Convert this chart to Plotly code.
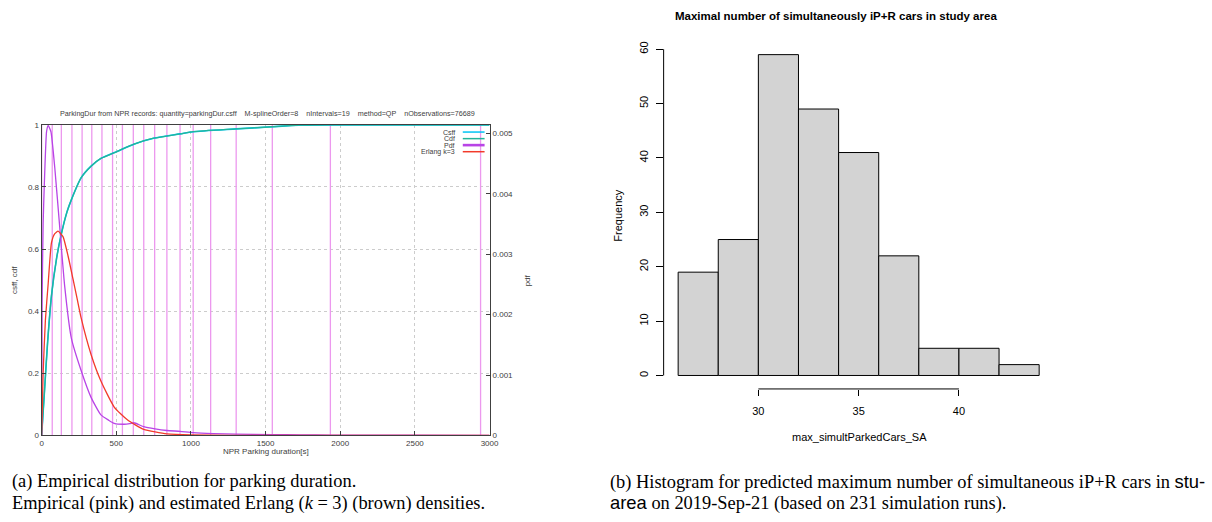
import plotly.graph_objects as go

W, H = 1212, 522

# ---------------- panel (a): parking duration distribution ----------------
dur_cdf = [0, 20, 40, 66, 100, 128, 170, 200, 265, 331, 397, 508, 618, 750, 927,
           1015, 1303, 1545, 1722, 2000, 3000]
cdf_vals = [0, 0.15, 0.30, 0.45, 0.57, 0.64, 0.72, 0.76, 0.83, 0.867, 0.892, 0.915,
            0.938, 0.957, 0.971, 0.978, 0.987, 0.994, 0.999, 1.0, 1.0]
csff_vals = [0, 0.15, 0.30, 0.45, 0.57, 0.64, 0.72, 0.76, 0.83, 0.867, 0.892, 0.915,
             0.938, 0.957, 0.971, 0.978, 0.987, 0.994, 0.999, 1.0, 1.0]

dur_pdf = [0, 3, 10, 18, 33, 44, 62, 88, 121, 154, 199, 265, 331, 397, 450, 486, 552,
           590, 618, 684, 760, 839, 927, 1015, 1150, 1300, 1545, 1735, 1935, 2500, 3000]
pdf_vals = [0, 0.00216, 0.0035, 0.00416, 0.00503, 0.00513, 0.00503, 0.00443, 0.00345,
            0.00248, 0.00161, 0.00107, 0.00063, 0.00034, 0.00025, 0.0002, 0.000185,
            0.000195, 0.00021, 0.000144, 0.000108, 0.000082, 0.000067, 0.000046,
            0.000031, 0.000021, 0.000015, 0.00001, 0.000005, 0.000003, 0.000002]

dur_erl = [0, 10, 25, 44, 66, 88, 110, 143, 177, 210, 238, 265, 331, 397, 486, 574,
           684, 839, 1000, 1500, 3000]
erl_vals = [0, 0.00103, 0.0019, 0.00252, 0.00319, 0.00334, 0.00338, 0.00329, 0.00297,
            0.00259, 0.00226, 0.00194, 0.00134, 0.0009, 0.00047, 0.00026, 0.0001,
            0.000026, 0.000008, 0, 0]

interval_bounds = [0, 71, 132, 203, 271, 336, 404, 475, 541, 614, 684, 757, 839, 927,
                   1015, 1132, 1303, 1545, 1934, 2940]

x_ticks_a = [0, 500, 1000, 1500, 2000, 2500, 3000]
y_ticks_a = [0, 0.2, 0.4, 0.6, 0.8, 1]
pdf_ticks = [0, 0.001, 0.002, 0.003, 0.004, 0.005]
pdf_tick_labels = ["0", "0.001", "0.002", "0.003", "0.004", "0.005"]

# ---------------- panel (b): histogram ----------------
bin_edges = [26, 28, 30, 32, 34, 36, 38, 40, 42, 44]
counts = [19, 25, 59, 49, 41, 22, 5, 5, 2]
x_ticks_b = [30, 35, 40]
y_ticks_b = [0, 10, 20, 30, 40, 50, 60]

def px(x):
    return x / W

def py(y):
    return 1 - y / H

COL_CSFF = "#00c4f4"
COL_CDF = "#22b59a"
COL_PDF = "#b844e6"
COL_ERL = "#f23a2a"
COL_BOUND = "#ec98ee"
AX = "#404040"
SMALL = dict(family="Liberation Sans, Arial, sans-serif", size=8, color=AX)
TINY = dict(family="Liberation Sans, Arial, sans-serif", size=7, color=AX)
RFONT = dict(family="Liberation Sans, Arial, sans-serif", size=11, color="#000")

fig = go.Figure()

# interval boundary lines
bx, by = [], []
for b in interval_bounds:
    bx += [b, b, None]
    by += [0, 1, None]
fig.add_trace(go.Scatter(x=bx, y=by, mode="lines", xaxis="x", yaxis="y",
                         line=dict(color=COL_BOUND, width=1.3), hoverinfo="skip"))

fig.add_trace(go.Scatter(x=dur_cdf, y=csff_vals, mode="lines", name="Csff", xaxis="x", yaxis="y",
                         line=dict(color=COL_CSFF, width=1.6, shape="spline", smoothing=0.6)))
fig.add_trace(go.Scatter(x=dur_cdf, y=cdf_vals, mode="lines", name="Cdf", xaxis="x", yaxis="y",
                         line=dict(color=COL_CDF, width=1.3, shape="spline", smoothing=0.6)))
fig.add_trace(go.Scatter(x=dur_pdf, y=pdf_vals, mode="lines", name="Pdf", xaxis="x", yaxis="y2",
                         line=dict(color=COL_PDF, width=1.3, shape="spline", smoothing=0.5)))
fig.add_trace(go.Scatter(x=dur_erl, y=erl_vals, mode="lines", name="Erlang k=3", xaxis="x", yaxis="y2",
                         line=dict(color=COL_ERL, width=1.3, shape="spline", smoothing=0.5)))

# histogram bars
centers = [(bin_edges[i] + bin_edges[i + 1]) / 2 for i in range(len(counts))]
widths = [bin_edges[i + 1] - bin_edges[i] for i in range(len(counts))]
fig.add_trace(go.Bar(x=centers, y=counts, width=widths, xaxis="x3", yaxis="y3",
                     marker=dict(color="#d3d3d3", line=dict(color="#000", width=1))))

# axis geometry for panel (b)
xb_left_px, xb_right_px = 667.7, 1061.0
x30_px, ppu_x = 763.3, 20.24
xb_min = 30 - (x30_px - xb_left_px) / ppu_x
xb_max = xb_min + (xb_right_px - xb_left_px) / ppu_x
yb_top_px, yb_bot_px = 40.0, 391.7
y0_px, ppu_y = 378.0, (378.0 - 46.0) / 60
yb_min = -(yb_bot_px - y0_px) / ppu_y
yb_max = (y0_px - yb_top_px) / ppu_y

axis_a = dict(showline=True, mirror=True, linecolor=AX, linewidth=1, ticks="inside",
              ticklen=4, tickcolor=AX, tickfont=SMALL, zeroline=False,
              gridcolor="#cccccc", griddash="dot", gridwidth=1)

fig.update_layout(
    width=W, height=H, margin=dict(l=0, r=0, t=0, b=0),
    paper_bgcolor="white", plot_bgcolor="white", showlegend=False,
    xaxis=dict(domain=[px(40), px(492)], range=[0, 3000], anchor="y",
               tickvals=x_ticks_a, showgrid=True, **axis_a),
    yaxis=dict(domain=[py(439), py(123)], range=[0, 1], anchor="x",
               tickvals=y_ticks_a, showgrid=True, **axis_a),
    yaxis2=dict(overlaying="y", side="right", anchor="x", range=[0, 0.00514],
                tickvals=pdf_ticks, ticktext=pdf_tick_labels, showgrid=False,
                showline=False, ticks="inside", ticklen=4, tickcolor=AX,
                tickfont=SMALL, zeroline=False, ticklabelstandoff=2),
    xaxis3=dict(domain=[px(xb_left_px), px(xb_right_px)], range=[xb_min, xb_max],
                anchor="y3", tickvals=x_ticks_b, showline=False, showgrid=False,
                zeroline=False, ticks="outside", ticklen=6, tickcolor="#000",
                tickfont=RFONT, ticklabelstandoff=6),
    yaxis3=dict(domain=[py(yb_bot_px), py(yb_top_px)], range=[yb_min, yb_max],
                anchor="x3", tickvals=y_ticks_b, showline=False, showgrid=False,
                zeroline=False, ticks="outside", ticklen=7, tickcolor="#000",
                tickfont=RFONT, tickangle=-90, ticklabelstandoff=3),
)

# R-style axis lines (only spanning the tick range)
fig.add_shape(type="line", xref="x3", yref="y3 domain", x0=x_ticks_b[0], x1=x_ticks_b[-1],
              y0=0, y1=0, line=dict(color="#000", width=1))
fig.add_shape(type="line", xref="x3 domain", yref="y3", x0=0, x1=0,
              y0=y_ticks_b[0], y1=y_ticks_b[-1], line=dict(color="#000", width=1))

# manual gnuplot-style legend
legend_rows = [("Csff", COL_CSFF, 1.5, 130.3), ("Cdf", COL_CDF, 1.5, 137.0),
               ("Pdf", COL_PDF, 2.6, 143.6), ("Erlang k=3", COL_ERL, 1.5, 150.3)]
for name, col, lw, yy in legend_rows:
    fig.add_annotation(x=px(458), y=py(yy), xref="paper", yref="paper", text=name,
                       showarrow=False, xanchor="right", yanchor="middle", font=TINY,
                       borderpad=0)
    fig.add_shape(type="line", xref="paper", yref="paper", x0=px(465), x1=px(487),
                  y0=py(yy), y1=py(yy), line=dict(color=col, width=lw))

sp = "\u00a0" * 4
TITLE_A = dict(family="Liberation Sans, Arial, sans-serif", size=7.2, color=AX)
ann = [
    (267.5, 111, "ParkingDur from NPR records: quantity=parkingDur.csff" + sp + "M-splineOrder=8"
     + sp + "nIntervals=19" + sp + "method=QP" + sp + "nObservations=76689", TITLE_A, 0, "center"),
    (12, 281, "csff, cdf", SMALL, -90, "center"),
    (530, 281, "pdf", SMALL, -90, "center"),
    (266.5, 455.5, "NPR Parking duration[s]", SMALL, 0, "center"),
    (842, 12, "<b>Maximal number of simultaneously iP+R cars in study area</b>",
     dict(family="Liberation Sans, Arial, sans-serif", size=11.5, color="#000"), 0, "center"),
    (622, 215, "Frequency", RFONT, -90, "center"),
    (865, 441, "max_simultParkedCars_SA", RFONT, 0, "center"),
]
for x, y, t, f, ang, xa in ann:
    fig.add_annotation(x=px(x), y=py(y), xref="paper", yref="paper", text=t, showarrow=False,
                       xanchor=xa, yanchor="middle", font=f, textangle=ang)

SERIF = dict(family="Liberation Serif, Times New Roman, serif", size=18.4, color="#000")
caps = [
    (8, 485.5, "(a) Empirical distribution for parking duration."),
    (8, 508, "Empirical (pink) and estimated Erlang (<i>k</i> = 3) (brown) densities."),
    (612, 486, "(b) Histogram for predicted maximum number of simultaneous iP+R cars in "
               "<span style=\"font-family:'Liberation Sans', Arial, sans-serif\">stu-</span>"),
    (612, 508, "<span style=\"font-family:'Liberation Sans', Arial, sans-serif\">area</span>"
               " on 2019-Sep-21 (based on 231 simulation runs)."),
]
for x, y, t in caps:
    fig.add_annotation(x=px(x), y=py(y), xref="paper", yref="paper", text=t, showarrow=False,
                       xanchor="left", yanchor="middle", font=SERIF)

fig.write_html("out.html")
